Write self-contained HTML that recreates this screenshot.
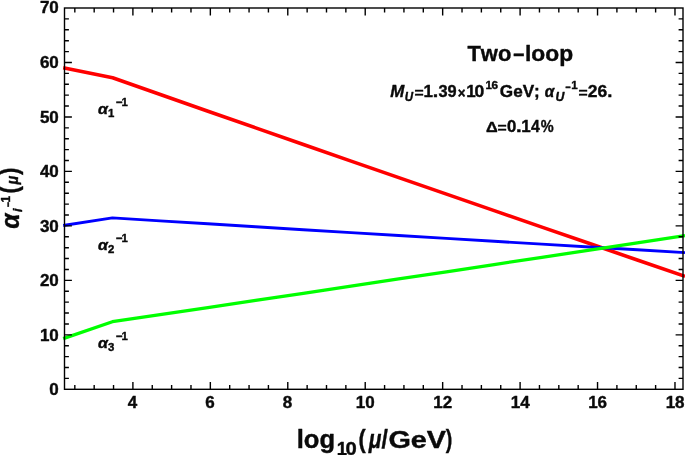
<!DOCTYPE html>
<html><head><meta charset="utf-8"><title>Two-loop</title>
<style>
html,body{margin:0;padding:0;background:#fff;}
body{width:685px;height:455px;overflow:hidden;}
svg{display:block;}
text{font-family:"Liberation Sans","DejaVu Sans",sans-serif;font-weight:bold;fill:#0a0a0a;stroke:#0a0a0a;stroke-width:0.4px;stroke-linejoin:round;font-kerning:none;}
.tk{font-size:17px;}
.it{font-style:italic;}
</style></head><body>
<svg width="685" height="455" viewBox="0 0 685 455">
<rect x="0" y="0" width="685" height="455" fill="#fff"/>
<g fill="none" stroke-linejoin="round" stroke-linecap="butt">
<polyline stroke="#ff0000" stroke-width="3.6" points="63.2,67.75 112.6,77.80 160.3,94.54 208.0,111.24 255.7,127.89 303.4,144.51 351.1,161.10 398.8,177.65 446.5,194.17 494.2,210.66 541.9,227.13 589.6,243.57 637.3,260.00 685.0,276.40"/>
<polyline stroke="#0000ff" stroke-width="2.9" points="63.2,225.55 112.4,217.85 160.1,220.84 207.8,223.80 255.6,226.75 303.3,229.68 351.0,232.60 398.7,235.50 446.4,238.39 494.1,241.26 541.9,244.12 589.6,246.97 637.3,249.82 685.0,252.65"/>
<polyline stroke="#00ff00" stroke-width="3.3" points="63.2,338.60 112.4,321.70 160.1,314.63 207.8,307.53 255.6,300.42 303.3,293.28 351.0,286.12 398.7,278.95 446.4,271.76 494.1,264.55 541.9,257.33 589.6,250.10 637.3,242.86 685.0,235.60"/>
</g>
<g stroke="#000" stroke-width="1.4" fill="none" shape-rendering="auto">
<rect x="64.5" y="8.0" width="618.5" height="381.3"/>
<path d="M74.82,389.3v-4.4M74.82,8.0v4.4M94.18,389.3v-4.4M94.18,8.0v4.4M113.54,389.3v-4.4M113.54,8.0v4.4M132.90,389.3v-7.4M132.90,8.0v7.4M152.26,389.3v-4.4M152.26,8.0v4.4M171.62,389.3v-4.4M171.62,8.0v4.4M190.98,389.3v-4.4M190.98,8.0v4.4M210.34,389.3v-7.4M210.34,8.0v7.4M229.70,389.3v-4.4M229.70,8.0v4.4M249.06,389.3v-4.4M249.06,8.0v4.4M268.42,389.3v-4.4M268.42,8.0v4.4M287.78,389.3v-7.4M287.78,8.0v7.4M307.14,389.3v-4.4M307.14,8.0v4.4M326.50,389.3v-4.4M326.50,8.0v4.4M345.86,389.3v-4.4M345.86,8.0v4.4M365.22,389.3v-7.4M365.22,8.0v7.4M384.58,389.3v-4.4M384.58,8.0v4.4M403.94,389.3v-4.4M403.94,8.0v4.4M423.30,389.3v-4.4M423.30,8.0v4.4M442.66,389.3v-7.4M442.66,8.0v7.4M462.02,389.3v-4.4M462.02,8.0v4.4M481.38,389.3v-4.4M481.38,8.0v4.4M500.74,389.3v-4.4M500.74,8.0v4.4M520.10,389.3v-7.4M520.10,8.0v7.4M539.46,389.3v-4.4M539.46,8.0v4.4M558.82,389.3v-4.4M558.82,8.0v4.4M578.18,389.3v-4.4M578.18,8.0v4.4M597.54,389.3v-7.4M597.54,8.0v7.4M616.90,389.3v-4.4M616.90,8.0v4.4M636.26,389.3v-4.4M636.26,8.0v4.4M655.62,389.3v-4.4M655.62,8.0v4.4M674.98,389.3v-7.4M674.98,8.0v7.4M64.5,378.41h4.4M683.0,378.41h-4.4M64.5,367.51h4.4M683.0,367.51h-4.4M64.5,356.62h4.4M683.0,356.62h-4.4M64.5,345.72h4.4M683.0,345.72h-4.4M64.5,334.83h7.4M683.0,334.83h-7.4M64.5,323.94h4.4M683.0,323.94h-4.4M64.5,313.04h4.4M683.0,313.04h-4.4M64.5,302.15h4.4M683.0,302.15h-4.4M64.5,291.25h4.4M683.0,291.25h-4.4M64.5,280.36h7.4M683.0,280.36h-7.4M64.5,269.47h4.4M683.0,269.47h-4.4M64.5,258.57h4.4M683.0,258.57h-4.4M64.5,247.68h4.4M683.0,247.68h-4.4M64.5,236.78h4.4M683.0,236.78h-4.4M64.5,225.89h7.4M683.0,225.89h-7.4M64.5,215.00h4.4M683.0,215.00h-4.4M64.5,204.10h4.4M683.0,204.10h-4.4M64.5,193.21h4.4M683.0,193.21h-4.4M64.5,182.31h4.4M683.0,182.31h-4.4M64.5,171.42h7.4M683.0,171.42h-7.4M64.5,160.53h4.4M683.0,160.53h-4.4M64.5,149.63h4.4M683.0,149.63h-4.4M64.5,138.74h4.4M683.0,138.74h-4.4M64.5,127.84h4.4M683.0,127.84h-4.4M64.5,116.95h7.4M683.0,116.95h-7.4M64.5,106.06h4.4M683.0,106.06h-4.4M64.5,95.16h4.4M683.0,95.16h-4.4M64.5,84.27h4.4M683.0,84.27h-4.4M64.5,73.37h4.4M683.0,73.37h-4.4M64.5,62.48h7.4M683.0,62.48h-7.4M64.5,51.59h4.4M683.0,51.59h-4.4M64.5,40.69h4.4M683.0,40.69h-4.4M64.5,29.80h4.4M683.0,29.80h-4.4M64.5,18.90h4.4M683.0,18.90h-4.4"/>
</g>
<g class="tk" text-anchor="end">
<text x="58.8" y="394.6">0</text>
<text x="58.8" y="340.7">10</text>
<text x="58.8" y="286.2">20</text>
<text x="58.8" y="231.7">30</text>
<text x="58.8" y="177.3">40</text>
<text x="58.8" y="122.8">50</text>
<text x="58.8" y="68.3">60</text>
<text x="58.8" y="13.1">70</text>
</g>
<g class="tk" text-anchor="middle">
<text x="132.6" y="408.4">4</text>
<text x="210.0" y="408.4">6</text>
<text x="287.5" y="408.4">8</text>
<text x="365.3" y="408.4">10</text>
<text x="442.8" y="408.4">12</text>
<text x="520.2" y="408.4">14</text>
<text x="597.6" y="408.4">16</text>
<text x="675.1" y="408.4">18</text>
</g>
<text class="it" transform="translate(98.0,113.5) scale(1.1,1)" font-size="14.6">α</text>
<text x="107.9" y="116.8" font-size="11.4">1</text>
<text x="115.9" y="106.2" font-size="11.4">−</text>
<text x="121.6" y="105.7" font-size="11.4">1</text>
<text class="it" transform="translate(98.0,249.5) scale(1.1,1)" font-size="14.6">α</text>
<text x="107.9" y="252.8" font-size="11.4">2</text>
<text x="115.9" y="242.2" font-size="11.4">−</text>
<text x="121.6" y="241.7" font-size="11.4">1</text>
<text class="it" transform="translate(98.0,347.6) scale(1.1,1)" font-size="14.6">α</text>
<text x="107.9" y="350.90000000000003" font-size="11.4">3</text>
<text x="115.9" y="340.3" font-size="11.4">−</text>
<text x="121.6" y="339.8" font-size="11.4">1</text>
<text transform="translate(467.40,60.9) scale(0.963,1.0)" font-size="22.8">Two</text>
<text transform="translate(513.16,61.36) scale(0.877,1.0)" font-size="22.8">–</text>
<text x="525.02" y="60.9" font-size="22.8">loop</text>
<text class="it" transform="translate(390.28,96.85) scale(0.993,1.0)" font-size="17">M</text>
<text class="it" transform="translate(404.83,100.6) scale(0.949,1.0)" font-size="12.2">U</text>
<text transform="translate(414.44,97.66) scale(0.924,0.82)" font-size="17">=</text>
<text x="423.62" y="96.85" font-size="17">1</text>
<text transform="translate(432.74,96.85) scale(1.164,1.0)" font-size="17">.</text>
<text transform="translate(438.46,96.85) scale(0.964,1.0)" font-size="17">39</text>
<text transform="translate(457.64,97.99) scale(0.949,1.0)" font-size="14" stroke-width="1.0">×</text>
<text x="466.32" y="96.85" font-size="17">1</text>
<text transform="translate(474.48,96.85) scale(1.035,1.0)" font-size="17">0</text>
<text x="485.50" y="88.9" font-size="11.6">1</text>
<text transform="translate(491.45,88.9) scale(1.017,1.0)" font-size="11.6">6</text>
<text transform="translate(499.80,96.85) scale(1.009,1.0)" font-size="17">GeV;</text>
<text class="it" transform="translate(544.66,96.55) scale(0.952,1.0)" font-size="16.2">α</text>
<text class="it" transform="translate(555.40,100.8) scale(1.006,1.0)" font-size="12.2">U</text>
<text transform="translate(565.50,90.51) scale(0.800,1.0)" font-size="11.6">−</text>
<text x="571.20" y="89.0" font-size="11.6">1</text>
<text transform="translate(578.44,97.66) scale(0.924,0.82)" font-size="17">=</text>
<text transform="translate(587.82,96.85) scale(1.026,1.0)" font-size="17">26</text>
<text transform="translate(607.31,96.85) scale(1.091,1.0)" font-size="17">.</text>
<text transform="translate(485.90,131.65) scale(1.067,1.0)" font-size="15.2">Δ</text>
<text transform="translate(497.54,132.51) scale(0.924,0.82)" font-size="17">=</text>
<text transform="translate(506.91,131.75) scale(0.988,1.0)" font-size="17">0</text>
<text transform="translate(515.90,131.75) scale(1.200,1.0)" font-size="17">.</text>
<text x="521.23" y="131.75" font-size="17">1</text>
<text transform="translate(530.90,131.75) scale(0.926,1.0)" font-size="17">4</text>
<text transform="translate(540.79,131.75) scale(0.855,1.0)" font-size="17">%</text>
<text transform="translate(296.67,447.6) scale(1.023,1.0)" font-size="25">log</text>
<text x="336.70" y="454.5" font-size="18.5">1</text>
<text transform="translate(345.55,454.5) scale(1.092,1.0)" font-size="18.5">0</text>
<text transform="translate(358.53,447.6) scale(0.867,1.0)" font-size="25">(</text>
<text class="it" transform="translate(368.73,447.6) scale(0.838,1.0)" font-size="25">μ</text>
<text transform="translate(381.50,447.6) scale(0.916,1.0)" font-size="25">/</text>
<text transform="translate(388.41,447.5) scale(1.192,1.0)" font-size="24.2">GeV</text>
<text transform="translate(445.70,447.6) scale(0.786,1.0)" font-size="25">)</text>
<g transform="rotate(-90)">
<text class="it" transform="translate(-228.67,18.6) scale(0.943,1.0)" font-size="26">α</text>
<text class="it" x="-211.90" y="21.5" font-size="12.5" stroke-width="0.8">i</text>
<text transform="translate(-207.08,11.5) scale(0.738,1.0)" font-size="12">−</text>
<text x="-202.40" y="10.1" font-size="12">1</text>
<text transform="translate(-193.44,17.8) scale(0.839,1.0)" font-size="26">(</text>
<text class="it" transform="translate(-184.55,17.7) scale(0.909,1.0)" font-size="16">μ</text>
<text transform="translate(-174.89,17.8) scale(0.866,1.0)" font-size="26">)</text>
</g>
</svg>
</body></html>
